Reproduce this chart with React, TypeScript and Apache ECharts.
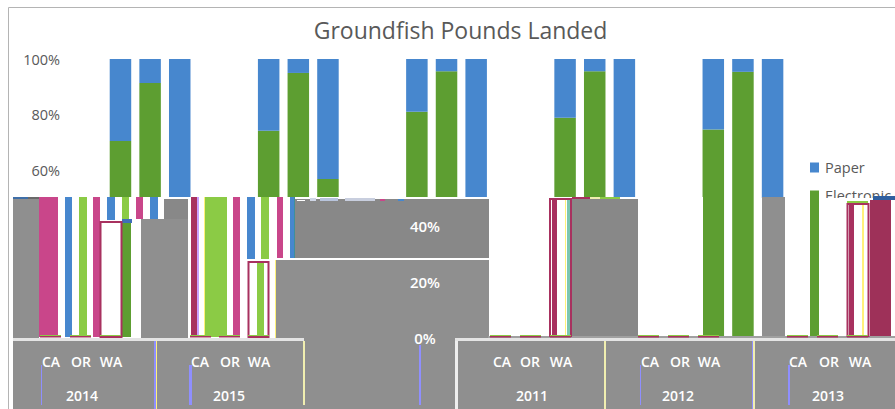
import React, { useEffect, useRef } from "react";
import * as echarts from "echarts";

const TITLE = "Groundfish Pounds Landed";
const YEARS = ["2011", "2012", "2013", "2014", "2015"];
const STATES = ["CA", "OR", "WA"];

// Share of pounds by reporting type, one state triple per year.
const ELECTRONIC = [
  [70.6, 91.4, 0],
  [74.3, 95, 57],
  [81.1, 95.6, 0],
  [78.9, 95.6, 0],
  [74.7, 95.4, 0],
];
const PAPER = [
  [29.4, 8.6, 100],
  [25.7, 5, 43],
  [18.9, 4.4, 100],
  [21.1, 4.4, 100],
  [25.3, 4.6, 100],
];

const GRAY = "#8f8f8f";
const GRAY_DARK = "#888888";
const WHITE = "#ffffff";
const PINK = "#c9468a";
const RED = "#a8315f";
const WINE = "#9e3159";
const BLUE = "#4787ce";
const GREEN = "#5d9e31";
const LIME = "#8bcb45";
const TEAL = "#3f8f9a";
const YELLOW = "#fff27a";
const VIOLET = "#8f8fff";
const CREAM = "#f0eeb0";

// Displaced image tiles, painted in order above the plot: x, y, w, h, fill.
const TILES: [number, number, number, number, string][] = [
  [13, 197, 690, 141, WHITE],
  [754, 198, 141, 140, WHITE],
  // left tile
  [13, 197, 15, 2, "#3f6fa8"],
  [28, 197, 11, 2, "#6a6a6a"],
  [13, 199, 26, 139, GRAY],
  [39, 197, 19, 140, PINK],
  [65, 197, 7, 140, BLUE],
  [79, 197, 8, 140, LIME],
  [93, 197, 7, 140, PINK],
  [107, 197, 8, 23, BLUE],
  [122, 197, 7, 23, LIME],
  [136, 197, 7, 22, PINK],
  [150, 197, 8, 22, BLUE],
  [164, 199, 24, 20, GRAY_DARK],
  [122, 221, 9, 116, GREEN],
  [122, 219, 10, 4, "#3f6fb8"],
  [141, 219, 47, 119, GRAY],
  [191, 197, 6, 140, RED],
  [197, 197, 2, 140, "#c9a0ff"],
  [204, 197, 1, 140, YELLOW],
  [205, 197, 22, 140, LIME],
  [233, 197, 7, 140, PINK],
  [247, 197, 8, 62, BLUE],
  [261, 197, 8, 62, LIME],
  [277, 197, 6, 61, PINK],
  [290, 197, 4, 61, BLUE],
  [294, 197, 1, 61, TEAL],
  [257, 262, 7, 74, LIME],
  [275, 260, 1, 78, YELLOW],
  // middle tile
  [295, 199, 194, 59, GRAY_DARK],
  [276, 260, 213, 78, GRAY],
  [297, 200, 8, 1, WHITE],
  [310, 198, 6, 3, "#cfd6e6"],
  [320, 198, 18, 3, "#b8c4dc"],
  [345, 198, 30, 3, "#c8cede"],
  [380, 199, 5, 2, PINK],
  [398, 199, 6, 2, BLUE],
  // right tiles
  [552, 199, 5, 137, RED],
  [565, 199, 1, 137, YELLOW],
  [567, 199, 4, 137, "#7cc7b0"],
  [571, 199, 1, 137, TEAL],
  [572, 197, 18, 2, RED],
  [590, 197, 10, 2, CREAM],
  [600, 197, 20, 2, LIME],
  [572, 199, 66, 137, GRAY_DARK],
  [762, 197, 23, 139, GRAY],
  [810, 192, 9, 144, GREEN],
  [847, 201, 21, 2, LIME],
  [849, 205, 5, 131, RED],
  [862, 205, 2, 131, YELLOW],
  [870, 200, 21, 136, WINE],
  [873, 196, 22, 4, "#2f5f9f"],
  // axis panes
  [488, 336, 407, 2, "#a0a0a0"],
  [13, 338, 882, 71, GRAY],
  [13, 338, 291, 3, "#e4e4e4"],
  [455, 338, 440, 3, "#e4e4e4"],
  [154, 341, 2, 68, VIOLET],
  [156, 341, 1, 68, YELLOW],
  [303, 341, 2, 64, CREAM],
  [455, 341, 3, 68, "#eeeeee"],
  [604, 341, 2, 68, CREAM],
  [752, 341, 1, 68, VIOLET],
  [753, 341, 2, 68, CREAM],
  [41, 365, 1, 40, VIOLET],
  [189, 365, 3, 40, VIOLET],
  [419, 345, 2, 60, VIOLET],
  [640, 365, 1, 40, VIOLET],
  [788, 365, 2, 40, VIOLET],
];

// White-filled bars with a coloured outline: x, y, w, h.
const OUTLINES: [number, number, number, number][] = [
  [100.5, 222, 21, 115],
  [248.5, 262, 20, 75],
  [550, 199, 21, 137],
  [847.5, 204, 21, 132],
];

// Short stubs left along the baseline by the displaced bars.
const STUBS = [40, 70, 100, 190, 219, 248, 490, 520, 550, 638, 668, 698, 787, 817, 847];

// Axis text placed in the displaced panes; each x lines up with its label.
const PANES = [
  { year: "2014", yearX: 82, stateX: [51, 81, 111] },
  { year: "2015", yearX: 229, stateX: [200, 230, 259] },
  { year: "2011", yearX: 532, stateX: [502, 530, 561] },
  { year: "2012", yearX: 678, stateX: [650, 680, 709] },
  { year: "2013", yearX: 828, stateX: [798, 829, 860] },
];
const SHIFTED_TICKS: [string, number][] = [
  ["40%", 226],
  ["20%", 282],
  ["0%", 338],
];

// Each year occupies three state slots followed by two empty ones.
function buildSlots(rows: number[][]) {
  const out: (number | null)[] = [null];
  rows.forEach((row, i) => {
    out.push(...row);
    if (i < rows.length - 1) out.push(null, null);
  });
  return out;
}

function buildCategories() {
  const out: string[] = [""];
  YEARS.forEach((year, i) => {
    STATES.forEach((s) => out.push(`${year} ${s}`));
    if (i < YEARS.length - 1) out.push("", "");
  });
  return out;
}

const FONT = "'Open Sans', 'Noto Sans', sans-serif";

function overlayElements() {
  const els: any[] = [];
  let z = 100;
  const rect = (x: number, y: number, w: number, h: number, fill: string) =>
    els.push({ type: "rect", z: z++, silent: true, shape: { x, y, width: w, height: h }, style: { fill } });
  const label = (text: string, x: number, y: number, size = 14) =>
    els.push({
      type: "text",
      z: z++,
      silent: true,
      x,
      y,
      style: {
        text,
        fill: "#ffffff",
        font: `600 ${size}px ${FONT}`,
        align: "center",
        verticalAlign: "middle",
      },
    });

  TILES.forEach(([x, y, w, h, fill]) => rect(x, y, w, h, fill));
  OUTLINES.forEach(([x, y, w, h]) =>
    els.push({
      type: "rect",
      z: z++,
      silent: true,
      shape: { x, y, width: w, height: h },
      style: { fill: "none", stroke: RED, lineWidth: 2 },
    })
  );
  STUBS.forEach((x) => {
    rect(x, 335, 21, 1, LIME);
    rect(x, 336, 21, 1.5, RED);
  });
  PANES.forEach((p) => {
    STATES.forEach((s, i) => label(s, p.stateX[i], 361));
    label(p.year, p.yearX, 395);
  });
  SHIFTED_TICKS.forEach(([t, y]) => label(t, 425, y, 15));

  // Page frame around the chart.
  els.push({ type: "line", z: z++, silent: true, shape: { x1: 8.5, y1: 7.5, x2: 895, y2: 7.5 }, style: { stroke: "#b4b4b4", lineWidth: 1 } });
  els.push({ type: "line", z: z++, silent: true, shape: { x1: 8.5, y1: 7.5, x2: 8.5, y2: 409 }, style: { stroke: "#b4b4b4", lineWidth: 1 } });
  return els;
}

export default function App() {
  const ref = useRef<HTMLDivElement>(null);

  useEffect(() => {
    const chart = echarts.init(ref.current!, undefined, { renderer: "svg" });
    chart.setOption({
      animation: false,
      backgroundColor: "#ffffff",
      title: {
        text: TITLE,
        left: 455.5,
        top: 13,
        textAlign: "center",
        textStyle: { fontFamily: FONT, fontSize: 23, fontWeight: 400, color: "#595959" },
      },
      legend: {
        data: ["Paper", "Electronic"],
        orient: "vertical",
        left: 805,
        top: 155,
        icon: "rect",
        itemWidth: 9,
        itemHeight: 10,
        itemGap: 13,
        itemStyle: { borderWidth: 0 },
        textStyle: { fontFamily: FONT, fontSize: 14.5, color: "#595959", padding: [0, 0, 0, 1] },
      },
      grid: { left: 76, top: 59, width: 711.4, height: 279 },
      xAxis: {
        type: "category",
        data: buildCategories(),
        axisTick: { show: false },
        axisLabel: { show: false },
        axisLine: { show: false },
      },
      yAxis: {
        type: "value",
        min: 0,
        max: 100,
        interval: 20,
        splitLine: { show: false },
        axisLine: { show: false },
        axisTick: { show: false },
        axisLabel: {
          margin: 16,
          fontFamily: FONT,
          fontSize: 14.5,
          color: "#595959",
          formatter: (v: number) => (v >= 60 ? `${v}%` : ""),
        },
      },
      series: [
        {
          name: "Electronic",
          type: "bar",
          stack: "share",
          barWidth: 21.5,
          itemStyle: { color: GREEN },
          data: buildSlots(ELECTRONIC),
        },
        {
          name: "Paper",
          type: "bar",
          stack: "share",
          barWidth: 21.5,
          itemStyle: { color: BLUE },
          data: buildSlots(PAPER),
        },
      ],
      graphic: { elements: overlayElements() },
    });
    return () => chart.dispose();
  }, []);

  return <div ref={ref} style={{ position: "fixed", left: 0, top: 0, width: 895, height: 409 }} />;
}
